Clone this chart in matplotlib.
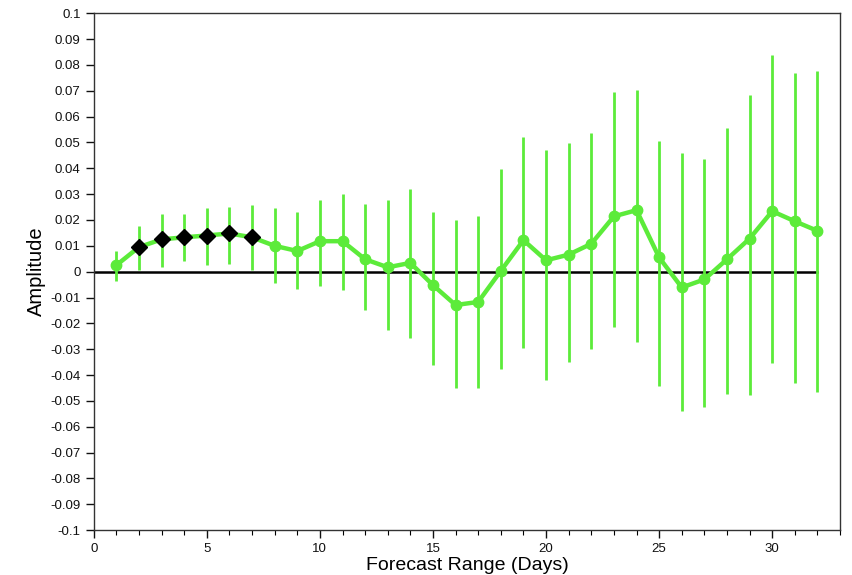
import numpy as np
import matplotlib
matplotlib.use("Agg")
import matplotlib.pyplot as plt
from matplotlib.ticker import MultipleLocator

plt.rcParams['font.family'] = ['Liberation Sans', 'DejaVu Sans']

days = list(range(1, 33))
amplitude = [0.0025, 0.0095, 0.0125, 0.0133, 0.014, 0.0148, 0.0133, 0.0100,
             0.0080, 0.0118, 0.0118, 0.0048, 0.0017, 0.0034, -0.0052, -0.0129,
             -0.0117, 0.0003, 0.0122, 0.0044, 0.0066, 0.0108, 0.0214, 0.0238,
             0.0055, -0.0061, -0.0030, 0.0048, 0.0128, 0.0234, 0.0195, 0.0158]
upper = [0.0079, 0.0176, 0.0222, 0.0222, 0.0245, 0.0250, 0.0257, 0.0245,
         0.0230, 0.0277, 0.0300, 0.0260, 0.0277, 0.0320, 0.0231, 0.0199,
         0.0216, 0.0396, 0.0520, 0.0470, 0.0496, 0.0535, 0.0697, 0.0702,
         0.0505, 0.0461, 0.0435, 0.0554, 0.0683, 0.0837, 0.0767, 0.0777]
lower = [-0.0037, 0.0005, 0.0017, 0.0040, 0.0025, 0.0030, 0.0005, -0.0045,
         -0.0068, -0.0056, -0.0072, -0.0150, -0.0226, -0.0257, -0.0362, -0.0450,
         -0.0450, -0.0377, -0.0296, -0.0420, -0.0349, -0.0300, -0.0214, -0.0272,
         -0.0442, -0.0540, -0.0523, -0.0475, -0.0478, -0.0355, -0.0432, -0.0467]
significant_days = [2, 3, 4, 5, 6, 7]

green = '#5CEB3A'

fig = plt.figure(figsize=(8.52, 5.75), dpi=100)
ax = fig.add_axes([0.110, 0.078, 0.876, 0.899])

x = np.array(days)
y = np.array(amplitude)
yerr = np.vstack([y - np.array(lower), np.array(upper) - y])

ax.plot([0, days[-1]], [0, 0], color='black', lw=1.8, zorder=1)
ax.errorbar(x, y, yerr=yerr, fmt='none', ecolor=green, elinewidth=2.0,
            capsize=0, zorder=2)
ax.plot(x, y, color=green, lw=3.2, marker='o', ms=7.5, mfc=green,
        mec=green, zorder=3)
sig = np.isin(x, significant_days)
ax.plot(x[sig], y[sig], linestyle='none', marker='D', ms=8.5, color='black',
        zorder=4)

ax.set_xlim(0, 33)
ax.set_ylim(-0.1, 0.1)
ax.xaxis.set_major_locator(MultipleLocator(5))
ax.xaxis.set_minor_locator(MultipleLocator(1))
yt = np.round(np.arange(-0.1, 0.1001, 0.01), 2)
ax.set_yticks(yt)
ax.set_yticklabels(['0' if v == 0 else f'{v:g}' for v in yt])

ax.tick_params(axis='both', which='major', direction='out', length=6,
               width=1, labelsize=9.5, colors='#111111')
ax.tick_params(axis='x', which='minor', direction='out', length=3.5, width=0.8)
for s in ax.spines.values():
    s.set_linewidth(1.0)
    s.set_color('#333333')

ax.set_xlabel('Forecast Range (Days)', fontsize=14, labelpad=1)
ax.set_ylabel('Amplitude', fontsize=14.5, labelpad=3)

fig.savefig('out.png', dpi=100)
